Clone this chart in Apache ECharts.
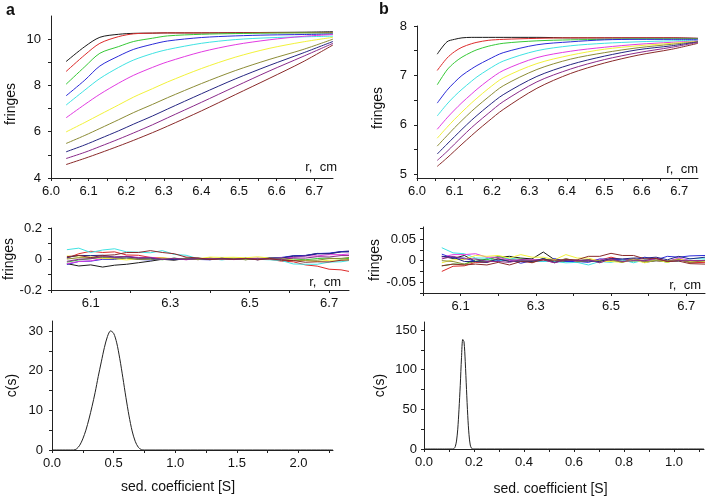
<!DOCTYPE html>
<html>
<head>
<meta charset="utf-8">
<script src="https://cdn.jsdelivr.net/npm/echarts@6/dist/echarts.min.js"></script>
<style>
html, body { margin: 0; padding: 0; background: #fff; }
#chart { width: 709px; height: 497px; }
</style>
</head>
<body>
<div id="chart"></div>
<script>
const FONT = 'Liberation Sans, Arial, Helvetica, sans-serif';
// black, red, green, blue, cyan, magenta, yellow, olive, navy, purple, wine
const curveColors = ['#1a1a1a', '#dd2b2b', '#36c936', '#2b2bd8', '#3fe3e3', '#e23be2', '#f2f23a', '#8c8c36', '#262682', '#8a2a8a', '#8a2a2a'];

// ---- panel a, top: fringes vs r
const topA_r = [6.04, 6.09, 6.13, 6.18, 6.22, 6.27, 6.31, 6.4, 6.49, 6.58, 6.67, 6.75];
const topA_fringes = [
  [9.03, 9.68, 10.08, 10.21, 10.25, 10.26, 10.27, 10.27, 10.28, 10.29, 10.3, 10.32],
  [8.6, 9.32, 9.82, 10.11, 10.23, 10.26, 10.27, 10.27, 10.27, 10.28, 10.28, 10.28],
  [8.05, 8.81, 9.39, 9.68, 9.9, 10.04, 10.14, 10.21, 10.24, 10.26, 10.27, 10.26],
  [7.55, 8.23, 8.84, 9.27, 9.56, 9.78, 9.92, 10.07, 10.14, 10.18, 10.2, 10.22],
  [7.15, 7.8, 8.3, 8.78, 9.1, 9.38, 9.55, 9.82, 9.98, 10.06, 10.1, 10.13],
  [6.6, 7.18, 7.62, 8.1, 8.44, 8.78, 9.02, 9.45, 9.76, 9.97, 10.12, 10.2],
  [5.99, 6.4, 6.74, 7.16, 7.5, 7.86, 8.15, 8.73, 9.22, 9.6, 9.88, 10.08],
  [5.49, 5.84, 6.14, 6.52, 6.83, 7.18, 7.47, 8.08, 8.64, 9.12, 9.55, 10.0],
  [5.13, 5.43, 5.7, 6.04, 6.33, 6.68, 6.98, 7.64, 8.28, 8.86, 9.4, 9.9],
  [4.84, 5.11, 5.36, 5.68, 5.95, 6.3, 6.6, 7.27, 7.95, 8.62, 9.25, 9.82],
  [4.58, 4.85, 5.08, 5.38, 5.63, 5.96, 6.24, 6.9, 7.6, 8.3, 9.02, 9.75]
];

// ---- panel b, top: fringes vs r
const topB_r = [6.054, 6.08, 6.1, 6.12, 6.145, 6.16, 6.19, 6.23, 6.32, 6.41, 6.5, 6.59, 6.68, 6.75];
const topB_fringes = [
  [7.43, 7.68, 7.73, 7.76, 7.77, 7.77, 7.77, 7.77, 7.77, 7.76, 7.76, 7.76, 7.76, 7.75],
  [7.1, 7.35, 7.48, 7.57, 7.64, 7.67, 7.71, 7.73, 7.75, 7.76, 7.76, 7.76, 7.76, 7.75],
  [6.81, 7.11, 7.26, 7.37, 7.47, 7.52, 7.59, 7.65, 7.7, 7.72, 7.73, 7.74, 7.74, 7.74],
  [6.44, 6.7, 6.86, 7.0, 7.13, 7.2, 7.32, 7.46, 7.62, 7.68, 7.72, 7.73, 7.73, 7.73],
  [6.18, 6.42, 6.58, 6.72, 6.88, 6.97, 7.12, 7.29, 7.5, 7.6, 7.65, 7.68, 7.7, 7.71],
  [5.91, 6.14, 6.3, 6.45, 6.62, 6.72, 6.9, 7.1, 7.36, 7.49, 7.57, 7.63, 7.67, 7.7],
  [5.73, 5.95, 6.11, 6.26, 6.44, 6.54, 6.73, 6.95, 7.24, 7.41, 7.53, 7.6, 7.65, 7.69],
  [5.57, 5.78, 5.94, 6.09, 6.27, 6.37, 6.56, 6.79, 7.12, 7.33, 7.46, 7.56, 7.63, 7.68],
  [5.41, 5.61, 5.76, 5.91, 6.09, 6.19, 6.38, 6.61, 6.98, 7.22, 7.39, 7.52, 7.6, 7.68],
  [5.28, 5.46, 5.61, 5.76, 5.94, 6.04, 6.23, 6.47, 6.87, 7.13, 7.32, 7.46, 7.57, 7.67],
  [5.16, 5.33, 5.47, 5.61, 5.78, 5.88, 6.07, 6.31, 6.74, 7.04, 7.25, 7.41, 7.53, 7.65]
];

// ---- panel a, residuals
const resA_r = [6.04, 6.07, 6.10, 6.13, 6.16, 6.19, 6.22, 6.25, 6.28, 6.31, 6.34, 6.37, 6.40, 6.43, 6.46, 6.49, 6.52, 6.55, 6.58, 6.61, 6.64, 6.67, 6.70, 6.73, 6.75];
const resA_fringes = [
  [-0.03, -0.045, -0.038, -0.052, -0.04, -0.034, -0.024, -0.014, -0.002, -0.008, 0.004, -0.004, 0.006, -0.003, 0.002, -0.004, 0.003, 0.008, 0.006, 0.02, 0.022, 0.036, 0.034, 0.048, 0.05],
  [0.005, 0.034, 0.05, 0.042, 0.046, 0.026, 0.024, 0.01, 0.008, -0.004, 0.006, -0.004, 0.005, -0.003, 0.0, 0.004, -0.004, -0.002, -0.014, -0.018, -0.038, -0.046, -0.066, -0.07, -0.08],
  [-0.02, -0.006, 0.002, 0.01, 0.006, 0.016, 0.006, 0.004, -0.005, 0.006, -0.003, 0.006, -0.004, 0.003, 0.005, -0.004, 0.004, -0.002, 0.006, 0.0, -0.005, 0.003, 0.006, 0.0, 0.004],
  [-0.035, -0.016, -0.014, -0.002, -0.003, 0.007, -0.003, -0.006, 0.005, -0.004, 0.004, -0.003, -0.005, 0.005, -0.002, 0.006, -0.004, 0.008, 0.01, 0.021, 0.023, 0.035, 0.038, 0.048, 0.05],
  [0.06, 0.07, 0.042, 0.058, 0.066, 0.046, 0.044, 0.04, 0.054, 0.03, 0.024, 0.002, 0.004, -0.006, 0.004, -0.003, -0.002, -0.005, -0.01, -0.032, -0.034, -0.034, -0.02, -0.018, -0.01],
  [-0.03, -0.016, -0.012, 0.004, 0.007, 0.018, 0.01, 0.011, 0.002, 0.003, -0.005, 0.004, -0.003, 0.005, -0.004, 0.003, 0.006, -0.002, 0.009, 0.01, 0.02, 0.02, 0.028, 0.028, 0.032],
  [0.02, 0.012, 0.013, 0.003, 0.002, -0.006, 0.002, 0.001, 0.008, 0.002, 0.003, 0.002, 0.012, 0.01, 0.011, 0.008, 0.014, 0.006, 0.004, -0.008, -0.01, -0.016, -0.008, -0.008, -0.004],
  [0.0, 0.008, 0.007, 0.015, 0.005, 0.006, -0.003, -0.001, 0.0, 0.003, 0.001, -0.004, 0.003, 0.002, 0.003, -0.005, 0.004, -0.003, -0.002, -0.01, -0.008, -0.008, 0.003, 0.004, 0.01],
  [0.01, 0.023, 0.022, 0.024, 0.012, 0.015, 0.005, 0.006, -0.003, -0.002, 0.0, 0.003, -0.004, 0.005, -0.003, 0.004, -0.005, 0.005, 0.006, 0.018, 0.02, 0.033, 0.034, 0.045, 0.046],
  [-0.015, -0.002, 0.002, 0.015, 0.013, 0.017, 0.007, 0.009, -0.003, 0.005, -0.004, 0.003, 0.002, 0.0, -0.002, 0.003, 0.002, 0.0, -0.003, 0.006, 0.006, 0.015, 0.013, 0.022, 0.022],
  [0.015, 0.023, 0.009, 0.023, 0.027, 0.042, 0.042, 0.054, 0.042, 0.034, 0.012, 0.007, -0.003, 0.0, -0.001, 0.003, -0.005, 0.004, -0.009, -0.01, -0.021, -0.018, -0.019, -0.008, -0.006]
];

// ---- panel b, residuals
const resB_r = [6.05, 6.08, 6.11, 6.14, 6.17, 6.20, 6.23, 6.26, 6.29, 6.32, 6.35, 6.38, 6.41, 6.44, 6.47, 6.50, 6.53, 6.56, 6.59, 6.62, 6.65, 6.68, 6.71, 6.75];
const resB_fringes = [
  [0.01, 0.005, 0.012, -0.002, 0.004, 0.008, 0.01, 0.006, 0.004, 0.02, 0.002, 0.0, -0.004, 0.002, -0.003, 0.0, -0.002, 0.003, -0.004, 0.0, -0.002, 0.002, -0.003, -0.002],
  [-0.025, -0.013, -0.012, -0.004, -0.004, 0.002, 0.001, 0.002, -0.005, 0.004, -0.002, -0.002, 0.0, 0.002, 0.001, 0.008, 0.002, 0.002, 0.001, 0.0, -0.002, 0.004, -0.005, -0.004],
  [-0.012, -0.008, -0.008, 0.002, 0.002, 0.01, 0.003, 0.004, -0.004, 0.005, -0.002, -0.001, 0.0, 0.002, -0.004, 0.005, -0.002, -0.001, 0.0, 0.002, -0.004, 0.004, -0.002, 0.001],
  [0.015, 0.006, 0.006, -0.002, -0.001, 0.0, 0.002, -0.006, 0.0, -0.002, 0.005, -0.002, -0.002, -0.004, 0.004, 0.003, 0.002, 0.001, 0.008, 0.002, 0.01, 0.008, 0.011, 0.012],
  [0.03, 0.018, 0.016, 0.006, 0.006, -0.002, 0.007, 0.0, 0.0, -0.002, -0.002, -0.005, -0.004, -0.01, -0.002, -0.004, 0.002, -0.005, 0.002, 0.0, 0.0, -0.002, 0.005, 0.004],
  [0.008, 0.014, 0.014, 0.016, 0.008, 0.008, 0.001, 0.002, 0.002, 0.002, -0.005, 0.004, -0.002, 0.0, 0.001, 0.002, -0.004, 0.004, -0.002, 0.005, -0.002, 0.006, 0.0, 0.0],
  [-0.005, 0.002, 0.003, 0.012, 0.01, 0.012, 0.006, 0.014, 0.008, 0.008, 0.002, 0.014, 0.006, 0.006, -0.002, -0.002, -0.004, 0.002, -0.005, 0.002, -0.004, 0.004, -0.002, -0.002],
  [0.0, -0.002, -0.008, -0.002, -0.002, 0.005, -0.002, -0.001, 0.0, 0.002, -0.004, 0.005, -0.002, -0.001, 0.0, 0.002, -0.004, 0.005, -0.002, 0.0, 0.0, 0.002, -0.004, 0.0],
  [0.01, 0.008, -0.002, -0.002, -0.004, 0.004, -0.002, -0.001, -0.002, 0.005, -0.004, 0.002, 0.0, -0.001, -0.002, 0.005, 0.004, 0.006, 0.006, 0.008, 0.002, 0.01, 0.004, 0.008],
  [0.004, 0.01, 0.004, 0.004, -0.002, -0.002, -0.004, 0.002, 0.001, 0.002, -0.005, 0.002, 0.0, 0.002, -0.005, 0.004, -0.002, 0.0, 0.0, 0.006, -0.002, 0.0, 0.0, 0.0],
  [-0.012, -0.008, -0.01, -0.008, -0.01, -0.004, -0.01, -0.002, -0.004, 0.002, 0.001, 0.002, 0.002, 0.01, 0.01, 0.017, 0.012, 0.012, 0.004, 0.005, -0.002, -0.001, -0.007, -0.008]
];

// ---- c(s) distributions
const csA_s = [0, 0.15, 0.175, 0.2, 0.225, 0.25, 0.275, 0.3, 0.325, 0.35, 0.375, 0.4, 0.425, 0.45, 0.475, 0.5, 0.525, 0.55, 0.575, 0.6, 0.625, 0.65, 0.675, 0.7, 0.725, 0.75, 2.28];
const csA_c = [0, 0, 0, 0.3, 1.2, 2.8, 5, 7.8, 11, 14.5, 18.5, 22.2, 25.8, 28.6, 30, 29.4, 27, 23, 18.2, 13.2, 8.6, 4.8, 2.2, 0.7, 0.1, 0, 0];
const csB_s = [0, 0.115, 0.12, 0.125, 0.13, 0.135, 0.14, 0.145, 0.15, 0.155, 0.16, 0.165, 0.17, 0.175, 0.18, 0.185, 0.19, 0.195, 1.12];
const csB_c = [0, 0, 0.5, 3, 10, 25, 50, 80, 115, 138, 135, 110, 75, 42, 18, 5, 1, 0, 0];

// ---- tick labels / tick marks
const topA_xLabels = [6.0, 6.1, 6.2, 6.3, 6.4, 6.5, 6.6, 6.7];
const topA_xTicks = [6.0, 6.05, 6.1, 6.15, 6.2, 6.25, 6.3, 6.35, 6.4, 6.45, 6.5, 6.55, 6.6, 6.65, 6.7];
const topA_yLabels = [4, 6, 8, 10];
const topA_yTicks = [4, 5, 6, 7, 8, 9, 10];
const topB_yLabels = [5, 6, 7, 8];
const topB_yTicks = [5, 5.5, 6, 6.5, 7, 7.5, 8];
const res_xLabels = [6.1, 6.3, 6.5, 6.7];
const res_xTicks = [6.0, 6.1, 6.2, 6.3, 6.4, 6.5, 6.6, 6.7];
const resA_yLabels = [-0.2, 0, 0.2];
const resA_yTicks = [-0.2, -0.1, 0, 0.1, 0.2];
const resB_yLabels = [-0.05, 0, 0.05];
const resB_yTicks = [-0.075, -0.05, -0.025, 0, 0.025, 0.05, 0.075];
const csA_xLabels = [0, 0.5, 1.0, 1.5, 2.0];
const csA_xTicks = [0, 0.25, 0.5, 0.75, 1.0, 1.25, 1.5, 1.75, 2.0, 2.25];
const csA_yLabels = [0, 10, 20, 30];
const csA_yTicks = [0, 5, 10, 15, 20, 25, 30];
const csB_xLabels = [0, 0.2, 0.4, 0.6, 0.8, 1.0];
const csB_xTicks = [0, 0.1, 0.2, 0.3, 0.4, 0.5, 0.6, 0.7, 0.8, 0.9, 1.0, 1.1];
const csB_yLabels = [0, 50, 100, 150];
const csB_yTicks = [0, 25, 50, 75, 100, 125, 150];

const fix1 = v => v.toFixed(1);
const plain = v => String(v);

function mkAxis(gridIndex, min, max, labels, ticks, fmt, margin, extra) {
  const ax = {
    type: 'value', gridIndex, min, max,
    axisLine: { show: true, onZero: false, lineStyle: { color: '#222', width: 1 } },
    axisTick: { show: true, length: 3, customValues: ticks, lineStyle: { color: '#222' } },
    axisLabel: { customValues: labels, formatter: fmt, margin, color: '#111', fontSize: 13, fontFamily: FONT },
    splitLine: { show: false }
  };
  return Object.assign(ax, extra || {});
}

function yName(name, gap, pad) {
  return {
    name, nameLocation: 'middle', nameGap: gap,
    nameTextStyle: { color: '#111', fontSize: 14, fontFamily: FONT, padding: pad || 0 }
  };
}

function lineSeries(xi, xs, ys, color, smooth) {
  return {
    type: 'line', xAxisIndex: xi, yAxisIndex: xi,
    data: xs.map((x, i) => [x, ys[i]]),
    showSymbol: false, symbol: 'none', silent: true,
    smooth: smooth,
    lineStyle: { color, width: 1 }, itemStyle: { color }
  };
}

const series = [];
topA_fringes.forEach((ys, i) => series.push(lineSeries(0, topA_r, ys, curveColors[i], 0.3)));
topB_fringes.forEach((ys, i) => series.push(lineSeries(1, topB_r, ys, curveColors[i], 0.3)));
resA_fringes.forEach((ys, i) => series.push(lineSeries(2, resA_r, ys, curveColors[i], false)));
resB_fringes.forEach((ys, i) => series.push(lineSeries(3, resB_r, ys, curveColors[i], false)));
series.push(lineSeries(4, csA_s, csA_c, '#222', 0.3));
series.push(lineSeries(5, csB_s, csB_c, '#222', 0.3));

const chart = echarts.init(document.getElementById('chart'));
chart.setOption({
  animation: false,
  backgroundColor: '#fff',
  grid: [
    { left: 51, top: 16, width: 282, height: 162 },
    { left: 417, top: 26, width: 281, height: 152 },
    { left: 51, top: 228, width: 298, height: 62 },
    { left: 423, top: 227, width: 282, height: 66 },
    { left: 52, top: 321, width: 281, height: 129 },
    { left: 424, top: 322, width: 280, height: 128 }
  ],
  xAxis: [
    mkAxis(0, 6.0, 6.75, topA_xLabels, topA_xTicks, fix1, 7),
    mkAxis(1, 6.0, 6.75, topA_xLabels, topA_xTicks, fix1, 7),
    mkAxis(2, 6.0, 6.75, res_xLabels, res_xTicks, fix1, 7),
    mkAxis(3, 6.0, 6.75, res_xLabels, res_xTicks, fix1, 7),
    mkAxis(4, 0, 2.28, csA_xLabels, csA_xTicks, fix1, 7,
      { name: 'sed. coefficient [S]', nameLocation: 'middle', nameGap: 30,
        nameTextStyle: { color: '#111', fontSize: 14, fontFamily: FONT, padding: [0, 29, 0, 0] } }),
    mkAxis(5, 0, 1.12, csB_xLabels, csB_xTicks, fix1, 7,
      { name: 'sed. coefficient [S]', nameLocation: 'middle', nameGap: 33,
        nameTextStyle: { color: '#111', fontSize: 14, fontFamily: FONT, padding: [0, 27, 0, 0] } })
  ],
  yAxis: [
    mkAxis(0, 4, 11, topA_yLabels, topA_yTicks, plain, 10, yName('fringes', 33, [0, 14, 0, 0])),
    mkAxis(1, 4.925, 8, topB_yLabels, topB_yTicks, plain, 10, yName('fringes', 32, [0, 12, 0, 0])),
    mkAxis(2, -0.2, 0.2, resA_yLabels, resA_yTicks, plain, 9, yName('fringes', 34)),
    mkAxis(3, -0.075, 0.078, resB_yLabels, resB_yTicks, plain, 7, yName('fringes', 37)),
    mkAxis(4, 0, 32.5, csA_yLabels, csA_yTicks, plain, 9, yName('c(s)', 33)),
    mkAxis(5, 0, 160, csB_yLabels, csB_yTicks, plain, 7, yName('c(s)', 37))
  ],
  graphic: [
    { type: 'text', left: 6, top: 3, style: { text: 'a', font: 'bold 16px ' + FONT, fill: '#111' } },
    { type: 'text', left: 379, top: 2, style: { text: 'b', font: 'bold 16px ' + FONT, fill: '#111' } },
    { type: 'text', right: 709 - 337, top: 161, style: { text: 'r,  cm', font: '13px ' + FONT, fill: '#111' } },
    { type: 'text', right: 709 - 698, top: 163, style: { text: 'r,  cm', font: '13px ' + FONT, fill: '#111' } },
    { type: 'text', right: 709 - 341, top: 276, style: { text: 'r,  cm', font: '13px ' + FONT, fill: '#111' } },
    { type: 'text', right: 709 - 701, top: 279, style: { text: 'r,  cm', font: '13px ' + FONT, fill: '#111' } }
  ],
  series
});
</script>
</body>
</html>
